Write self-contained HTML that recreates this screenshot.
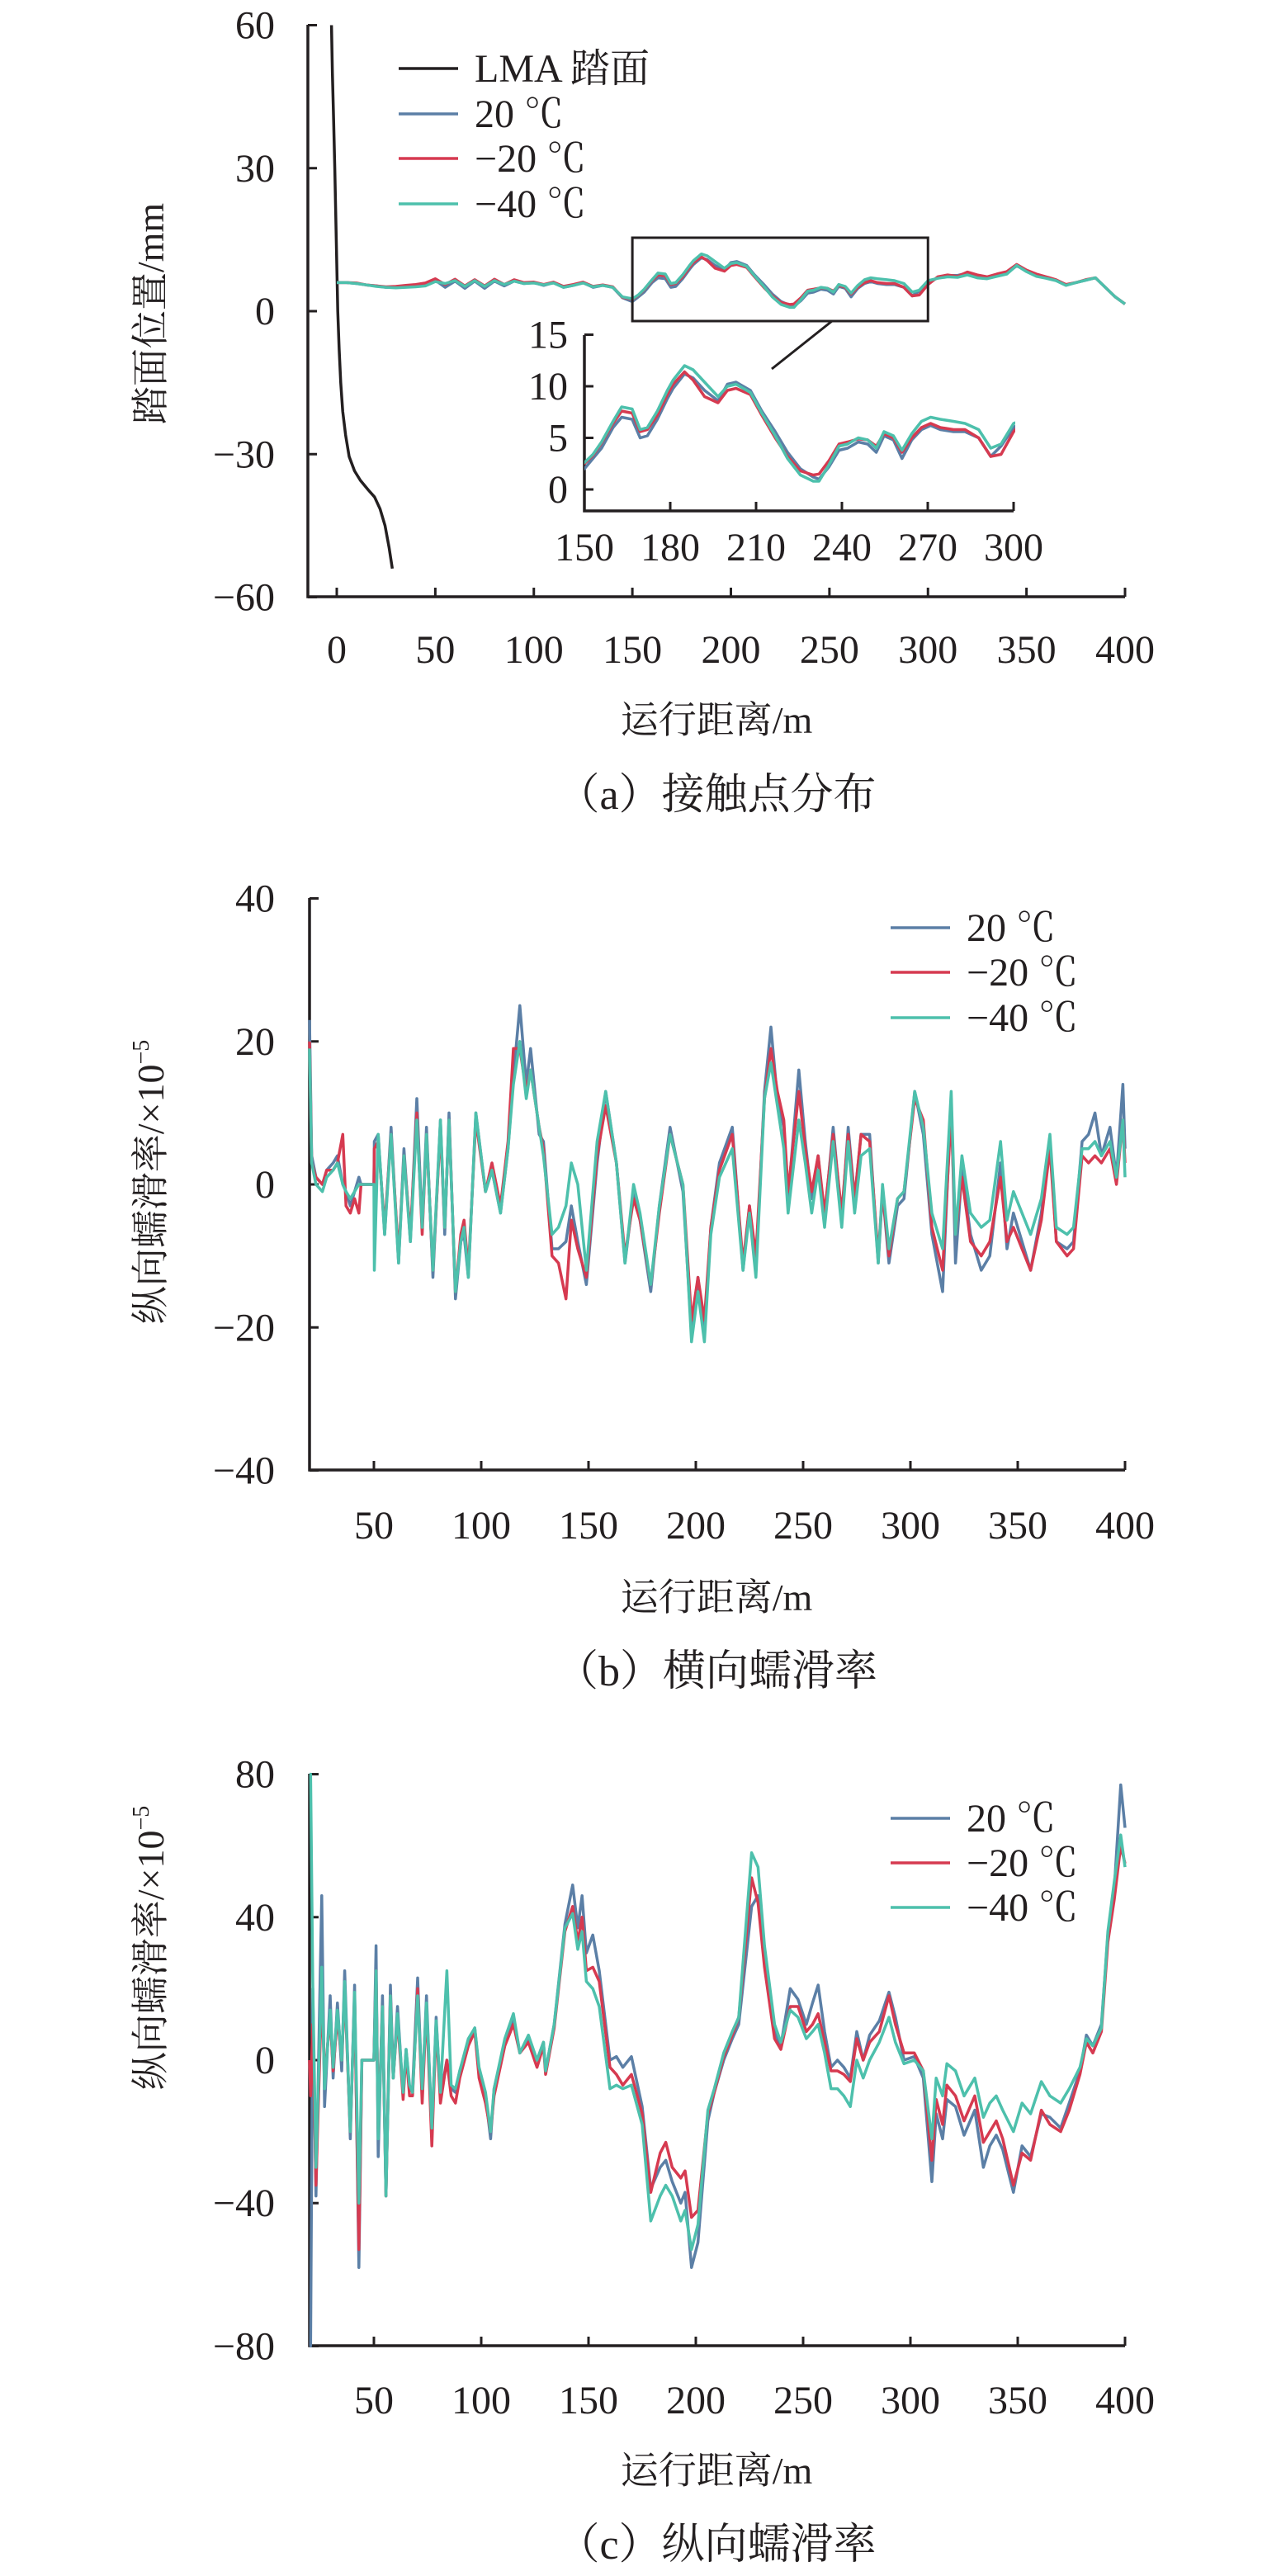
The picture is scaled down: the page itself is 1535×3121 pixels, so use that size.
<!DOCTYPE html>
<html><head><meta charset="utf-8">
<style>
html,body{margin:0;padding:0;background:#fff;}
svg{display:block;}
text{font-family:"Liberation Serif","Noto Serif CJK SC","Noto Sans CJK SC",serif;fill:#231f20;}
.tk{font-size:48px;}
.ttl{font-size:46px;}
.cap{font-size:52px;}
.ax{stroke:#231f20;stroke-width:3.5;fill:none;}
.ln{fill:none;stroke-width:3.5;stroke-linejoin:round;}
</style></head>
<body>
<svg id="fig" width="1535" height="3121" viewBox="0 0 1535 3121" xmlns="http://www.w3.org/2000/svg">
<defs><clipPath id="insetClip"><rect x="708" y="380" width="522" height="240"/></clipPath></defs>
<g id="chartA"></g>
<g id="chartB"></g>
<g id="chartC"></g>
</svg>
<script>
// ---------- Chart A data ----------
const lmaX = [-2.7,-2.2,-1.6,-1,-0.5,0,0.5,1.2,2,3,4.5,6.3,9,12,16,19.2,22,24.5,26.5,28.2];
const lmaY = [60,50,40,30,20,10,0,-8,-15,-21,-26,-30.5,-33.5,-35.5,-37.5,-39,-41.5,-45,-49.5,-54];
const aX = [0,5,10,15,20,25,30,35,40,45,50,55,60,65,70,75,80,85,90,95,100,105,110,115,120,125,130,135,140,145,150,153,156,160,163,166.7,169.5,172,175.5,179,181,185,188,192,196.7,200,203,208,212,216.7,221,225.5,230,232,235.5,239,242,245.7,249,252,254.7,258,261,264.4,267.8,271,274.4,279,283,287.8,292,295.6,300,305,310,315,320,325,330,335,340,345,350,355,360,365,370,375,380,385,390,395,400];
const aBlue = [6,6,5.8,5.5,5.3,5,5,5.2,5.3,5.5,6.5,5,6.3,4.8,6.3,4.8,6.3,5.3,6.3,5.8,6,5.4,6,5,5.4,6,5,5.4,5,2.8,2,3,4,6,7,6.8,5,5.2,6.8,8.8,9.8,11.2,10.8,9.6,8.6,10.2,10.4,9.6,7.6,5.6,3.6,2,1.2,1,2.2,3.8,4,4.6,4.4,3.6,5.2,4.8,3,4.8,5.8,6.2,5.8,5.6,5.6,5,3.2,4.2,6,7,7.5,7.5,8,7.3,7,7.5,8,9.5,8.5,7.5,7,6.5,5.5,6,6.5,7,5,3,1.5];
const aRed = [6,6,5.9,5.5,5.3,5.1,5.2,5.4,5.6,5.9,6.8,5.6,6.7,5.3,6.6,5.3,6.7,5.6,6.6,6,6.1,5.6,6.1,5.2,5.6,6.1,5.2,5.5,5.1,2.9,2.5,3.3,4.5,6.4,7.6,7.4,5.6,5.8,7.2,9.2,10.2,11.4,10.6,9,8.4,9.6,9.8,9.2,7.2,5,3.2,1.8,1.4,1.5,2.8,4.4,4.6,4.9,4.8,4.2,5.4,5,3.6,5,6,6.4,6,5.8,5.8,5,3.2,3.4,5.6,7.2,7.6,7.3,8.2,7.6,7.2,7.8,8.3,9.8,8.6,7.8,7.2,6.6,5.6,6,6.6,7,5,3,1.5];
const aTeal = [6,6,5.8,5.5,5.2,5,4.9,5,5.1,5.3,6.2,5.8,6.4,5.2,6.4,5.2,6.4,5.6,6.3,5.8,5.9,5.5,5.9,5,5.4,5.9,5.1,5.4,5,3,2.6,3.4,4.6,6.6,8,7.8,5.8,6,7.6,9.6,10.6,12,11.6,10.4,9,10,10.2,9.4,7.4,5.2,3,1.4,0.8,0.8,2.4,4.2,4.4,5,4.8,4,5.6,5.2,3.8,5.4,6.6,7,6.8,6.6,6.4,5.8,4,4.4,6.4,6.9,7.2,7.1,7.6,7,6.8,7.3,7.8,9.6,8.3,7.3,6.9,6.4,5.4,6,6.5,7,5,3,1.5];
const aYTicks = [60,30,0,-30,-60];
const aXTicks = [0,50,100,150,200,250,300,350,400];
const insetXTicks = [150,180,210,240,270,300];
const insetYTicks = [15,10,5,0];

// ---------- Chart B data ----------
const bX = [20,21,23,26,28,31,33,35.5,37,39,41,43,44,50,50.2,52,55,58,61.5,64,67,70,72.5,74.5,77.5,81,83,85,88,90.5,92,94,97.5,102,105,109,112.5,115,118,121,123,127,129,133,136,139.5,142,145,149,154,158,163,167,171,174,179,183,188,194,198,201,204,207,211,217,222,225,228,232,235,238,241,243,248,251,254,257,260,264,268,271,274,277,281,285,287,290,294,297,302,306,310,315,319,321,324,328,333,337,342,345,348,352,356,361,365,368,373,376,380,383,386,389,393,396,399,400];
const bBlue = [23,4,1,0,2,3,4,0,-1,-3,-1,1,0,0,6,7,-7,8,-11,5,-8,12,-6,8,-13,9,-7,10,-16,-8,-7,-13,10,-1,2,-4,5,15,25,14,19,7,6,-9,-9,-8,-3,-8,-14,3,13,3,-11,-1,-5,-15,-3,8,-1,-21,-13,-21,-6,3,8,-12,-3,-12,13,22,12,8,-2,16,6,-2,4,-5,8,-5,8,-2,7,7,-11,-1,-11,-3,-2,13,7,-7,-15,12,-11,2,-7,-12,-10,3,-9,-4,-8,-12,-4,6,-8,-9,-8,6,7,10,4,8,1,14,5];
const bRed = [20,3,1,0,2,2,3,7,-3,-4,-2,-4,0,0,5,6,-6,7,-10,4,-7,10,-7,7,-12,8,-6,9,-15,-7,-5,-12,9,-1,3,-3,6,19,19,13,16,8,5,-10,-11,-16,-5,-9,-13,4,11,3,-10,-2,-5,-14,-4,7,0,-19,-13,-19,-6,2,7,-11,-3,-10,12,19,13,9,-1,13,5,-1,4,-4,7,-4,7,-2,7,6,-10,-1,-10,-2,-1,12,9,-6,-12,10,-7,1,-8,-10,-8,1,-8,-6,-9,-12,-5,5,-8,-10,-9,4,3,4,3,5,0,9,3];
const bTeal = [19,3,0,-1,1,2,3,0,-1,-2,-1,0,0,0,-12,7,-7,7,-11,4,-8,9,-6,7,-12,9,-6,9,-15,-8,-6,-13,10,-1,2,-4,5,14,20,12,16,8,4,-7,-6,-3,3,0,-12,6,13,3,-11,0,-4,-14,-3,7,0,-22,-15,-22,-7,1,5,-12,-4,-13,12,17,11,5,-4,9,3,-4,2,-6,6,-6,6,-4,4,5,-11,0,-9,-2,-1,13,8,-4,-9,13,-7,4,-4,-6,-5,6,-5,-1,-4,-7,-2,7,-6,-7,-6,5,5,6,4,6,1,9,1];
const bYTicks = [40,20,0,-20,-40];
const bXTicks = [50,100,150,200,250,300,350,400];

// ---------- Chart C data ----------
const cX = [20,20.5,21.5,23,25.7,27,29.6,31,33,35,36.4,39,41,43,44.4,50,51,52,54,55.6,57.7,59,61,63.6,65,66.6,68,70.4,72.5,74.5,77,79,81,84,86,88,90,94,97,99,102,104.4,106,111,115,118,122,126,129,130,134,139,142.6,145,147,149,152,155,160,163,166,170,175,179,183.4,186,189,193,195,198,201,205.6,208.6,213,217,220,226,229,232,236.7,239.6,244,247.6,251.5,254.4,257,260,263,266,269,272,275,278,281,285.5,290,293,297,301.8,306,310,312,315,317,321,325,330,334,337,340,343,348,352,356,361,365,370,374,379,382,385,389,392,395,398,400];
const cBlue = [-80,-80,20,-38,46,-13,18,-5,16,-3,25,-22,21,-58,0,0,32,-27,18,-38,21,-5,15,-10,3,-8,-8,23,-10,18,-20,12,-10,0,-8,-9,-3,5,9,-3,-10,-22,-8,5,12,2,6,0,5,-3,10,38,49,37,46,30,35,25,0,1,-2,1,-13,-36,-30,-28,-34,-40,-37,-58,-51,-17,-9,0,6,10,43,46,28,8,4,20,17,10,16,21,8,-2,0,-2,-5,8,0,7,11,19,12,0,1,-5,-34,-15,-22,-11,-13,-21,-14,-30,-24,-21,-25,-37,-24,-27,-15,-16,-19,-12,-3,7,4,10,35,48,77,65];
const cRed = [0,-10,10,-35,20,-5,12,-3,12,0,20,-20,18,-53,0,0,25,-20,15,-38,18,-5,12,-11,2,-10,-10,20,-12,15,-24,10,-12,0,-10,-12,-5,4,8,-5,-12,-20,-10,4,10,2,5,-2,4,-4,9,36,43,33,40,25,26,22,-2,-4,-7,-4,-15,-37,-26,-23,-30,-33,-31,-44,-42,-15,-9,1,7,12,51,44,26,6,3,15,15,8,10,13,5,-3,-3,-4,-6,6,0,5,8,18,10,2,2,-3,-28,-11,-18,-7,-10,-17,-10,-23,-20,-17,-22,-35,-26,-28,-14,-18,-20,-14,-4,5,2,8,33,45,60,55];
const cTeal = [80,80,22,-30,26,-8,14,-2,14,0,22,-20,19,-40,0,0,25,-22,15,-38,18,-5,13,-9,3,-7,-9,18,-8,16,-19,11,-9,25,-7,-8,-3,6,9,-2,-9,-20,-8,6,13,2,7,0,5,-3,10,37,41,31,36,22,20,15,-8,-7,-8,-7,-18,-45,-38,-35,-38,-45,-42,-53,-46,-14,-8,2,8,12,58,54,32,10,5,14,12,6,8,10,2,-8,-8,-10,-13,0,-5,0,5,12,5,-1,0,-3,-22,-5,-10,-1,-3,-10,-5,-16,-12,-10,-14,-20,-12,-15,-6,-10,-12,-8,-2,6,4,9,36,50,63,54];
const cYTicks = [80,40,0,-40,-80];
const cXTicks = [50,100,150,200,250,300,350,400];

const COLORS = {blue:'#5b7fa6', red:'#d63a50', teal:'#4dc0ac', black:'#231f20'};
const NS = 'http://www.w3.org/2000/svg';

function mk(parent, tag, attrs, txt){
  const e = document.createElementNS(NS, tag);
  for (const k in attrs) e.setAttribute(k, attrs[k]);
  if (txt !== undefined) e.textContent = txt;
  parent.appendChild(e);
  return e;
}
function pathD(xs, ys, sx, sy){
  let d = '';
  for (let i=0;i<xs.length;i++){ d += (i? 'L':'M') + sx(xs[i]).toFixed(1) + ',' + sy(ys[i]).toFixed(1); }
  return d;
}
function fmt(v){ return v<0 ? '\u2212'+Math.abs(v) : String(v); }

function axes(g, x0, x1, yTop, yBot, xTicks, yTicks, sx, sy, labelY){
  const yl = mk(g,'path',{class:'ax', d:`M${x0},${yTop}L${x0},${yBot}L${x1},${yBot}`});
  
  
  yTicks.forEach(v=>{
    const t = mk(g,'line',{x1:x0,x2:x0+11,y1:sy(v),y2:sy(v),stroke:COLORS.black,'stroke-width':3});
    
    
    const l = mk(g,'text',{class:'tk',x:333,y:sy(v)+16,'text-anchor':'end'},fmt(v));
    
    
  });
  xTicks.forEach(v=>{
    const t = mk(g,'line',{x1:sx(v),x2:sx(v),y1:yBot,y2:yBot-11,stroke:COLORS.black,'stroke-width':3});
    
    
    const l = mk(g,'text',{class:'tk',x:sx(v),y:labelY+16,'text-anchor':'middle'},fmt(v));
    
    
  });
}
function series(g, xs, ys, sx, sy, color, name){
  const p = mk(g,'path',{class:'ln', d:pathD(xs,ys,sx,sy), stroke:color});
  
  
  return p;
}
function legend(g, x, rows, entries){
  entries.forEach((e,i)=>{
    const l = mk(g,'line',{x1:x,x2:x+72,y1:rows[i],y2:rows[i],stroke:e[0],'stroke-width':3.5});
    
    
    const t = mk(g,'text',{class:'tk',x:x+92,y:rows[i]+16},e[1]);
    
    
  });
}
function titles(g, yLabel, yLabelCy, xTitleY, caption, capY, sup){
  const xt = mk(g,'text',{class:'ttl',x:868,y:xTitleY+16,'text-anchor':'middle'},'运行距离/m');
  
  
  const yt = mk(g,'text',{class:'ttl',x:0,y:0,'text-anchor':'middle',transform:`translate(198,${yLabelCy}) rotate(-90)`},yLabel);
  
  
  if (sup){
    mk(yt,'tspan',{'font-size':'28px',dy:'-18'},sup);
  }
  const c = mk(g,'text',{class:'cap',x:868,y:capY+18,'text-anchor':'middle'},caption);
  
  
}

// ---------- Chart A ----------
(function(){
  const g = document.getElementById('chartA');
  const sx = v => 408 + v*2.3875;
  const sy = v => 377 - v*5.775;
  axes(g,373,1363,30,723,aXTicks,aYTicks,sx,sy,787);
  series(g,lmaX,lmaY,sx,sy,COLORS.black,'lma-tread-line');
  series(g,aX,aBlue,sx,sy,COLORS.blue,'series-20c');
  series(g,aX,aRed,sx,sy,COLORS.red,'series-minus20c');
  series(g,aX,aTeal,sx,sy,COLORS.teal,'series-minus40c');
  const box = mk(g,'rect',{x:sx(150),y:288,width:sx(300)-sx(150),height:101,fill:'none',stroke:COLORS.black,'stroke-width':3});
  
  
  const con = mk(g,'line',{x1:1008,y1:389,x2:935,y2:447,stroke:COLORS.black,'stroke-width':3});
  
  
  const ig = mk(g,'g',{});
  
  
  const ix = v => 708 + (v-150)*3.4667;
  const iy = v => 593 - v*12.5;
  const ia = mk(ig,'path',{class:'ax',d:`M708,406L708,619L1228,619`});
  
  
  insetYTicks.forEach(v=>{
    const t = mk(ig,'line',{x1:708,x2:719,y1:iy(v),y2:iy(v),stroke:COLORS.black,'stroke-width':3});
    
    
    const l = mk(ig,'text',{class:'tk',x:688,y:iy(v)+16,'text-anchor':'end'},fmt(v));
    
    
  });
  insetXTicks.forEach(v=>{
    const t = mk(ig,'line',{x1:ix(v),x2:ix(v),y1:619,y2:608,stroke:COLORS.black,'stroke-width':3});
    
    
    const l = mk(ig,'text',{class:'tk',x:ix(v),y:663+16,'text-anchor':'middle'},fmt(v));
    
    
  });
  const cg = mk(ig,'g',{'clip-path':'url(#insetClip)'});
  series(cg,aX,aBlue,ix,iy,COLORS.blue,'inset-series-20c');
  series(cg,aX,aRed,ix,iy,COLORS.red,'inset-series-minus20c');
  series(cg,aX,aTeal,ix,iy,COLORS.teal,'inset-series-minus40c');
  legend(g,483,[83,138,192,247],[[COLORS.black,'LMA 踏面'],[COLORS.blue,'20 ℃'],[COLORS.red,'\u221220 ℃'],[COLORS.teal,'\u221240 ℃']]);
  titles(g,'踏面位置/mm',380,872,'（a）接触点分布',962);
})();

// ---------- Chart B ----------
(function(){
  const g = document.getElementById('chartB');
  const sx = v => 453 + (v-50)*2.6;
  const sy = v => 1435 - v*8.6625;
  axes(g,375,1363,1088,1781,bXTicks,bYTicks,sx,sy,1848);
  series(g,bX,bBlue,sx,sy,COLORS.blue,'series-20c');
  series(g,bX,bRed,sx,sy,COLORS.red,'series-minus20c');
  series(g,bX,bTeal,sx,sy,COLORS.teal,'series-minus40c');
  legend(g,1079,[1124,1178,1233],[[COLORS.blue,'20 ℃'],[COLORS.red,'\u221220 ℃'],[COLORS.teal,'\u221240 ℃']]);
  titles(g,'纵向蠕滑率/×10',1432,1935,'（b）横向蠕滑率',2024,'\u22125');
})();

// ---------- Chart C ----------
(function(){
  const g = document.getElementById('chartC');
  const sx = v => 453 + (v-50)*2.6;
  const sy = v => 2496 - v*4.3306;
  axes(g,375,1363,2149,2842,cXTicks,cYTicks,sx,sy,2908);
  series(g,cX,cBlue,sx,sy,COLORS.blue,'series-20c');
  series(g,cX,cRed,sx,sy,COLORS.red,'series-minus20c');
  series(g,cX,cTeal,sx,sy,COLORS.teal,'series-minus40c');
  legend(g,1079,[2203,2257,2311],[[COLORS.blue,'20 ℃'],[COLORS.red,'\u221220 ℃'],[COLORS.teal,'\u221240 ℃']]);
  titles(g,'纵向蠕滑率/×10',2360,2993,'（c）纵向蠕滑率',3082,'\u22125');
})();
</script>
</body></html>
